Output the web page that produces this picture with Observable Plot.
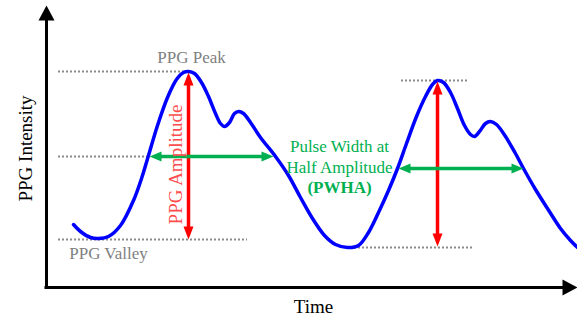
<!DOCTYPE html>
<html>
<head>
<meta charset="utf-8">
<script src="https://cdn.jsdelivr.net/npm/d3@7"></script>
<script src="https://cdn.jsdelivr.net/npm/@observablehq/plot@0.6"></script>
<style>
  html, body { margin: 0; padding: 0; background: #fff; }
  svg text { font-family: "Liberation Serif", "Times New Roman", serif; }
</style>
</head>
<body>
<div id="chart"></div>
<script>
// PPG waveform (time, intensity) in chart units
const pulseTime = [27, 34, 44, 52, 62, 74, 87, 96, 102, 111, 121, 130, 137, 142, 148, 155, 162, 169, 174, 178, 183, 188, 192, 197, 204, 214, 229, 242, 254, 266, 278, 289, 301, 312, 322, 332, 342, 351, 360, 370, 379, 386, 391, 397, 404, 411, 418, 424, 428, 433, 439, 444, 450, 459, 469, 477, 489, 501, 514, 524, 531];
const pulseIntensity = [63, 56, 50, 49, 51, 62, 87, 112, 132, 162, 190, 208, 215, 216, 214, 205, 191, 174, 164, 161, 165, 174, 176, 174, 165, 150, 131, 112, 90, 69, 52, 43, 40, 42, 55, 75, 97, 119, 144, 171, 191, 203, 207, 205, 195, 179, 162, 153, 151, 156, 164, 166, 163, 151, 134, 119, 98, 79, 59, 47, 40];

// dotted reference levels
const guideLevel = [216, 131, 48, 207, 40];
const guideStart = [12, 12, 12, 355, 304];
const guideEnd = [142, 102, 201, 422, 427];

// PPG amplitude arrows (vertical)
const ampTime = [142, 391];
const ampTop = [215, 206];
const ampBottom = [48, 41];

// PWHA arrows (horizontal)
const pwhaLevel = [131, 119];
const pwhaLeft = [103, 352];
const pwhaRight = [227, 477];

// axis extents
const axisTimeMax = 531;
const axisIntensityMax = 282;

// labels
const labelText = ["PPG Peak", "PPG Valley"];
const labelTime = [145, 62];
const labelIntensity = [230, 34];

const fontFamily = "Liberation Serif";
const blue = "#0000ff", red = "#ff0000", green = "#00b050", gray = "#808080";

function head(w, h) {
  return { draw(ctx) { ctx.moveTo(0, 0); ctx.lineTo(w / 2, h); ctx.lineTo(-w / 2, h); ctx.closePath(); } };
}

const pulse = pulseTime.map((t, i) => ({t, v: pulseIntensity[i]}));
const guides = guideLevel.map((v, i) => ({v, a: guideStart[i], b: guideEnd[i]}));
const amps = ampTime.map((t, i) => ({t, top: ampTop[i], bottom: ampBottom[i]}));
const pwhas = pwhaLevel.map((v, i) => ({v, l: pwhaLeft[i], r: pwhaRight[i]}));
const labels = labelText.map((s, i) => ({s, t: labelTime[i], v: labelIntensity[i]}));

const redHead = head(10, 13);
const greenHead = head(10, 12);
const axisHead = head(16, 15);

const chart = Plot.plot({
  width: 577,
  height: 317,
  margin: 0,
  style: {fontFamily: "Liberation Serif, serif", background: "#fff"},
  x: {domain: [-46, 531], range: [0, 577], axis: null},
  y: {domain: [-30, 287], range: [317, 0], axis: null},
  marks: [
    // axes
    Plot.ruleX([0], {y1: -1.5, y2: axisIntensityMax - 12, stroke: "#000", strokeWidth: 3}),
    Plot.ruleY([0], {x1: -1.5, x2: axisTimeMax - 12, stroke: "#000", strokeWidth: 3}),
    Plot.dot([0], {x: 0, y: axisIntensityMax, symbol: axisHead, r: 1, fill: "#000", stroke: "none"}),
    Plot.dot([0], {x: axisTimeMax, y: 0, symbol: axisHead, r: 1, rotate: 90, fill: "#000", stroke: "none"}),
    // dotted guides
    Plot.ruleY(guides, {y: "v", x1: "a", x2: "b", stroke: "#8c8c8c", strokeWidth: 2, strokeDasharray: "2,2"}),
    // waveform
    Plot.line(pulse, {x: "t", y: "v", curve: "catmull-rom", stroke: blue, strokeWidth: 3.5}),
    // amplitude arrows
    Plot.ruleX(amps, {x: "t", y1: d => d.top - 10, y2: d => d.bottom + 10, stroke: red, strokeWidth: 3.5}),
    Plot.dot(amps, {x: "t", y: "top", symbol: redHead, r: 1, fill: red, stroke: "none"}),
    Plot.dot(amps, {x: "t", y: "bottom", symbol: redHead, r: 1, rotate: 180, fill: red, stroke: "none"}),
    // PWHA arrows
    Plot.ruleY(pwhas, {y: "v", x1: d => d.l + 9, x2: d => d.r - 9, stroke: green, strokeWidth: 3.5}),
    Plot.dot(pwhas, {x: "l", y: "v", symbol: greenHead, r: 1, rotate: -90, fill: green, stroke: "none"}),
    Plot.dot(pwhas, {x: "r", y: "v", symbol: greenHead, r: 1, rotate: 90, fill: green, stroke: "none"}),
    // labels
    Plot.text(labels, {x: "t", y: "v", text: "s", fill: gray, fontSize: 17, fontFamily}),
    Plot.text(["PPG Amplitude"], {x: 129, y: 123, text: d => d, rotate: -90, fill: "#ff4d4d", fontSize: 19, fontFamily}),
    Plot.text(["Pulse Width at\nHalf Amplitude"], {x: 293, y: 132, text: d => d, fill: green, fontSize: 17, lineHeight: 1.28, fontFamily}),
    Plot.text(["(PWHA)"], {x: 293, y: 100, text: d => d, fill: green, fontSize: 17, fontWeight: "bold", fontFamily}),
    Plot.text(["PPG Intensity"], {x: -21, y: 139, text: d => d, rotate: -90, fill: "#000", fontSize: 19, fontFamily}),
    Plot.text(["Time"], {x: 267, y: -19, text: d => d, fill: "#000", fontSize: 19, fontFamily})
  ]
});
document.getElementById("chart").appendChild(chart);
</script>
</body>
</html>
